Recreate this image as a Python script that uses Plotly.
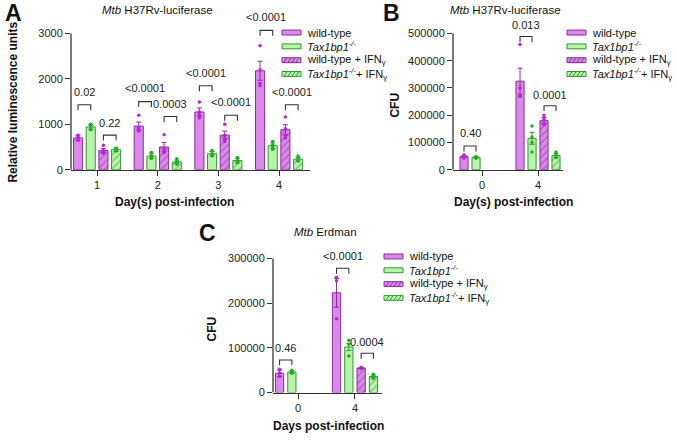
import plotly.graph_objects as go

W, H = 677, 441
FONT = "Liberation Sans, Arial, sans-serif"
AX = "#333333"

# ---------------- data ----------------
legend_labels = ["wild-type", "<i>Tax1bp1<sup>-/-</sup></i>",
                 "wild-type + IFN<sub>γ</sub>", "<i>Tax1bp1<sup>-/-</sup></i>+ IFN<sub>γ</sub>"]

# Panel A: Mtb H37Rv-luciferase, relative luminescence units
a_days = ["1", "2", "3", "4"]
a_wt = [700, 960, 1270, 2180]
a_ko = [940, 300, 350, 530]
a_wt_ifn = [420, 500, 760, 880]
a_ko_ifn = [440, 170, 200, 230]
a_wt_sem = [60, 90, 90, 210]
a_ko_sem = [55, 50, 50, 60]
a_wt_ifn_sem = [50, 100, 90, 110]
a_ko_ifn_sem = [40, 40, 50, 40]
a_wt_pts = [[760, 720, 650, 690], [1200, 920, 850, 880], [1490, 1270, 1140, 1200], [2730, 2200, 1900, 1850]]
a_ko_pts = [[1000, 960, 900, 880, 980], [380, 300, 250, 270], [420, 350, 300, 330], [620, 550, 450, 500]]
a_wt_ifn_pts = [[540, 420, 360, 400], [770, 450, 400, 380], [1000, 760, 620, 700], [1160, 900, 760, 700]]
a_ko_ifn_pts = [[470, 440, 410, 460], [240, 170, 120, 150], [270, 200, 150, 180], [300, 230, 190, 200]]
# (day index, pair: 0 = wt vs ko, 1 = wt+IFN vs ko+IFN, label, bracket height, label height)
a_pvals = [(0, 0, "0.02", 1430, 1720), (0, 1, "0.22", 760, 1030),
           (1, 0, "<0.0001", 1500, 1790), (1, 1, "0.0003", 1170, 1440),
           (2, 0, "<0.0001", 1850, 2140), (2, 1, "<0.0001", 1200, 1490),
           (3, 0, "<0.0001", 3070, 3370), (3, 1, "<0.0001", 1430, 1720)]

# Panel B: Mtb H37Rv-luciferase, CFU
b_days = ["0", "4"]
b_wt = [48000, 325000]
b_ko = [45000, 115000]
b_wt_ifn = [None, 180000]
b_ko_ifn = [None, 52000]
b_wt_sem = [4000, 48000]
b_ko_sem = [2500, 22000]
b_wt_ifn_sem = [None, 12000]
b_ko_ifn_sem = [None, 7000]
b_wt_pts = [[55000, 48000, 42000], [460000, 270000, 270000, 300000]]
b_ko_pts = [[48000, 45000, 42000], [160000, 120000, 100000, 65000]]
b_wt_ifn_pts = [[], [200000, 185000, 170000, 165000]]
b_ko_ifn_pts = [[], [65000, 55000, 45000, 45000]]
b_pvals = [(0, 0, "0.40", 87000, 133000), (1, 0, "0.013", 489000, 533000),
           (1, 1, "0.0001", 235000, 276000)]

# Panel C: Mtb Erdman, CFU
c_days = ["0", "4"]
c_wt = [43000, 223000]
c_ko = [46000, 102000]
c_wt_ifn = [None, 55000]
c_ko_ifn = [None, 36000]
c_wt_sem = [7000, 32000]
c_ko_sem = [3000, 8000]
c_wt_ifn_sem = [None, 1200]
c_ko_ifn_sem = [None, 3000]
c_wt_pts = [[52000, 44000, 36000], [258000, 250000, 165000]]
c_ko_pts = [[50000, 46000, 43000], [117000, 108000, 82000]]
c_wt_ifn_pts = [[], [56000, 55000, 54000]]
c_ko_ifn_pts = [[], [41000, 36000, 32000]]
c_pvals = [(0, 0, "0.46", 73000, 99000), (1, 0, "<0.0001", 278000, 305000),
           (1, 1, "0.0004", 88000, 113000)]

# ---------------- styles ----------------
FILLS = ["#d98ae8", "#b8f3aa", "#d98ae8", "#b8f3aa"]
EDGES = ["#8a2c9c", "#2e9a2e", "#8a2c9c", "#2e9a2e"]
DOTS = ["#c21ee0", "#1eb01e", "#c21ee0", "#1eb01e"]
HATCH = [False, False, True, True]
TICK_FS = 11


def px(x):
    return x / W


def py(y):
    return 1 - y / H


fig = go.Figure()
shapes = []
annotations = []

panels = [
    dict(s="", days=a_days, means=[a_wt, a_ko, a_wt_ifn, a_ko_ifn],
         sems=[a_wt_sem, a_ko_sem, a_wt_ifn_sem, a_ko_ifn_sem],
         pts=[a_wt_pts, a_ko_pts, a_wt_ifn_pts, a_ko_ifn_pts], pvals=a_pvals,
         xd=(71, 310), yd=(172, 5), xr=[-0.43, 3.51], ymax=3000, ytop=3000 * 167 / 138,
         yticks=[0, 1000, 2000, 3000], sp=0.209, bw=0.15),
    dict(s="2", days=b_days, means=[b_wt, b_ko, b_wt_ifn, b_ko_ifn],
         sems=[b_wt_sem, b_ko_sem, b_wt_ifn_sem, b_ko_ifn_sem],
         pts=[b_wt_pts, b_ko_pts, b_wt_ifn_pts, b_ko_ifn_pts], pvals=b_pvals,
         xd=(453, 563), yd=(172, 5), xr=[-0.518, 1.446], ymax=500000, ytop=500000 * 167 / 138,
         yticks=[0, 100000, 200000, 300000, 400000, 500000], sp=0.214, bw=0.145),
    dict(s="3", days=c_days, means=[c_wt, c_ko, c_wt_ifn, c_ko_ifn],
         sems=[c_wt_sem, c_ko_sem, c_wt_ifn_sem, c_ko_ifn_sem],
         pts=[c_wt_pts, c_ko_pts, c_wt_ifn_pts, c_ko_ifn_pts], pvals=c_pvals,
         xd=(273, 382), yd=(398, 245), xr=[-0.439, 1.474], ymax=300000, ytop=300000 * 153 / 136,
         yticks=[0, 100000, 200000, 300000], sp=0.216, bw=0.145),
]

layout_axes = {}
for p in panels:
    s = p["s"]
    xa, ya = "x" + s, "y" + s
    n = len(p["days"])
    xs = lambda i, k: i + (k - 1.5) * p["sp"]
    for k in range(4):
        xpos = [xs(i, k) for i in range(n)]
        bar = dict(x=xpos, y=p["means"][k], width=p["bw"], xaxis=xa, yaxis=ya,
                   marker=dict(color=FILLS[k], line=dict(color=EDGES[k], width=1)),
                   error_y=dict(type="data", array=p["sems"][k], color=EDGES[k],
                                thickness=1, width=2.5),
                   showlegend=False, hoverinfo="skip")
        if HATCH[k]:
            bar["marker"]["pattern"] = dict(shape="/", fgcolor=EDGES[k], bgcolor=FILLS[k],
                                            size=5, solidity=0.25, fillmode="overlay")
        fig.add_trace(go.Bar(**bar))
    for k in range(4):
        dx, dy = [], []
        for i in range(n):
            for v in p["pts"][k][i]:
                dx.append(xs(i, k))
                dy.append(v)
        fig.add_trace(go.Scatter(x=dx, y=dy, mode="markers", xaxis=xa, yaxis=ya,
                                 marker=dict(color=DOTS[k], size=3.5),
                                 showlegend=False, hoverinfo="skip", cliponaxis=False))
    # brackets
    hpx = p["yd"][0] - p["yd"][1]
    leg = p["ytop"] * 5.5 / hpx
    for (i, pair, txt, yb, yl) in p["pvals"]:
        x0, x1 = xs(i, 2 * pair), xs(i, 2 * pair + 1)
        shapes.append(dict(type="path", xref=xa, yref=ya,
                           path=f"M{x0},{yb - leg} L{x0},{yb} L{x1},{yb} L{x1},{yb - leg}",
                           line=dict(color=AX, width=1.1)))
        annotations.append(dict(x=(x0 + x1) / 2, y=yl, xref=xa, yref=ya, text=txt,
                                showarrow=False, font=dict(size=11, color="#222", family=FONT),
                                yanchor="middle", xanchor="center"))
    # y axis line (only up to the last tick)
    shapes.append(dict(type="line", xref=xa + " domain", yref=ya, x0=0, x1=0, y0=0, y1=p["ymax"],
                       line=dict(color=AX, width=1.3)))
    key = "" if s == "" else s
    layout_axes["xaxis" + key] = dict(domain=[px(p["xd"][0]), px(p["xd"][1])], range=p["xr"],
                                      anchor=ya, showline=True, linecolor=AX, linewidth=1.3,
                                      ticks="outside", ticklen=5, tickwidth=1.3, tickcolor=AX,
                                      tickvals=list(range(n)), ticktext=p["days"],
                                      tickfont=dict(size=TICK_FS, color="#222", family=FONT),
                                      showgrid=False, zeroline=False, fixedrange=True)
    layout_axes["yaxis" + key] = dict(domain=[py(p["yd"][0]), py(p["yd"][1])],
                                      range=[0, p["ytop"]], anchor=xa, showline=False,
                                      ticks="outside", ticklen=5, tickwidth=1.3, tickcolor=AX,
                                      tickvals=p["yticks"], tickformat="d",
                                      tickfont=dict(size=TICK_FS, color="#222", family=FONT),
                                      showgrid=False, zeroline=False, fixedrange=True)


def text(x, y, t, size=11, bold=False, angle=0, anchor="center"):
    annotations.append(dict(x=px(x), y=py(y), xref="paper", yref="paper",
                            text=f"<b>{t}</b>" if bold else t, showarrow=False, textangle=angle,
                            xanchor=anchor, yanchor="middle",
                            font=dict(size=size, color="#111", family=FONT)))


# panel letters, titles, axis titles
text(13, 13, "A", size=23, bold=True)
text(391, 13, "B", size=23, bold=True)
text(207, 236, "C", size=23, bold=True)
text(157, 10, "<i>Mtb</i> H37Rv-luciferase", size=11.5)
text(505, 10, "<i>Mtb</i> H37Rv-luciferase", size=11.5)
text(325, 235, "<i>Mtb</i> Erdman", size=11.5)
text(13, 104, "Relative luminescence units", size=12, bold=True, angle=-90)
text(395, 106, "CFU", size=12, bold=True, angle=-90)
text(212, 333, "CFU", size=12, bold=True, angle=-90)
text(174, 205, "Day(s) post-infection", size=12, bold=True)
text(513, 205, "Day(s) post-infection", size=12, bold=True)
text(328, 432, "Days post-infection", size=12, bold=True)


# custom legends (wide thin swatches like the original)
def legend(x0, ys, sw=19, sh=5):
    for k, yc in enumerate(ys):
        xa0, xa1 = x0, x0 + sw
        shapes.append(dict(type="rect", xref="paper", yref="paper",
                           x0=px(xa0), x1=px(xa1), y0=py(yc + sh / 2), y1=py(yc - sh / 2),
                           fillcolor=FILLS[k], line=dict(color=EDGES[k], width=1)))
        if HATCH[k]:
            for j in range(4):
                hx = xa0 + 2 + 4 * j
                shapes.append(dict(type="line", xref="paper", yref="paper",
                                   x0=px(hx), x1=px(hx + 3), y0=py(yc + sh / 2 - 0.5),
                                   y1=py(yc - sh / 2 + 0.5),
                                   line=dict(color=EDGES[k], width=1)))
        annotations.append(dict(x=px(x0 + sw + 4), y=py(yc), xref="paper", yref="paper",
                                text=legend_labels[k], showarrow=False, xanchor="left",
                                yanchor="middle", font=dict(size=11, color="#111", family=FONT)))


legend(282, [33, 47, 61, 75])
legend(567, [33, 47, 61, 75])
legend(384, [260, 274, 288, 302])

fig.update_layout(width=W, height=H, margin=dict(l=0, r=0, t=0, b=0), autosize=False,
                  paper_bgcolor="white", plot_bgcolor="white", barmode="overlay",
                  shapes=shapes, annotations=annotations, showlegend=False,
                  font=dict(family=FONT), **layout_axes)

fig.write_html("out.html")
